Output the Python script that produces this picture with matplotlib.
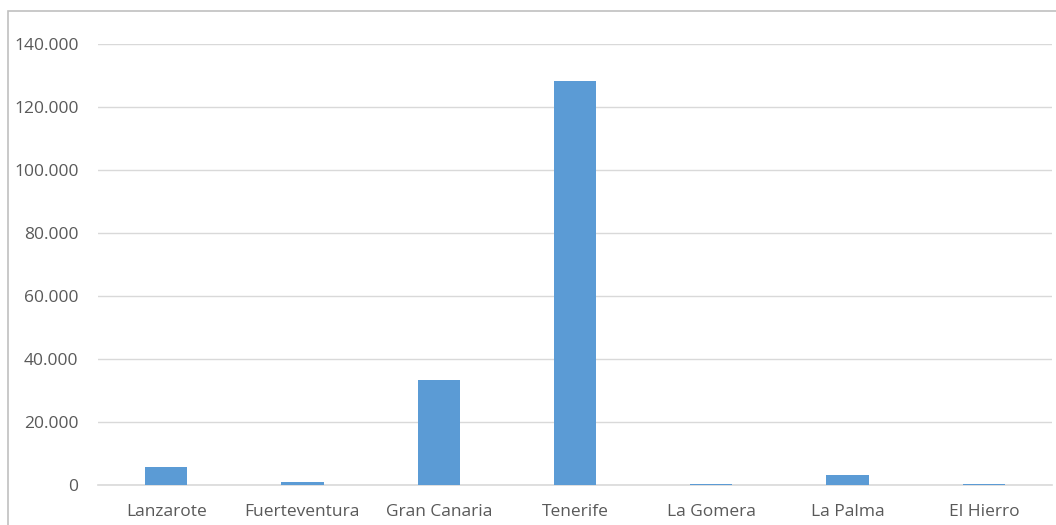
import matplotlib
matplotlib.use("Agg")
import matplotlib.pyplot as plt
from matplotlib.patches import Rectangle
from matplotlib.ticker import FuncFormatter

islands = ["Lanzarote", "Fuerteventura", "Gran Canaria", "Tenerife",
           "La Gomera", "La Palma", "El Hierro"]
values = [5700, 850, 33400, 128200, 400, 3100, 400]
yticks = [0, 20000, 40000, 60000, 80000, 100000, 120000, 140000]

plt.rcParams['font.family'] = ['Open Sans', 'DejaVu Sans']

fig = plt.figure(figsize=(10.56, 5.25), dpi=100)
fig.patches.append(Rectangle((8 / 1056, -0.1), 1.2, 1 - 11 / 525 + 0.1,
                             transform=fig.transFigure, fill=False,
                             edgecolor="#c0c0c0", linewidth=1.2))

ax = fig.add_axes([98 / 1056, 40 / 525, 954 / 1056, 441 / 525])
x = range(len(islands))
ax.bar(x, values, width=0.31, color="#5b9bd5", zorder=3)

ax.set_xlim(-0.5, len(islands) - 0.5)
ax.set_ylim(0, 140000)
ax.set_yticks(yticks)
ax.yaxis.set_major_formatter(FuncFormatter(lambda v, p: f"{int(v):,}".replace(",", ".")))
ax.set_xticks(list(x))
ax.set_xticklabels(islands)
ax.grid(axis="y", color="#d9d9d9", linewidth=1, zorder=0)
for s in ["top", "right", "left"]:
    ax.spines[s].set_visible(False)
ax.spines["bottom"].set_color("#d9d9d9")
ax.spines["bottom"].set_linewidth(1.2)
ax.tick_params(axis="both", length=0, colors="#595959", labelsize=12.5)
ax.tick_params(axis="y", pad=14)
ax.tick_params(axis="x", pad=14)

fig.savefig("out.png", dpi=100)
